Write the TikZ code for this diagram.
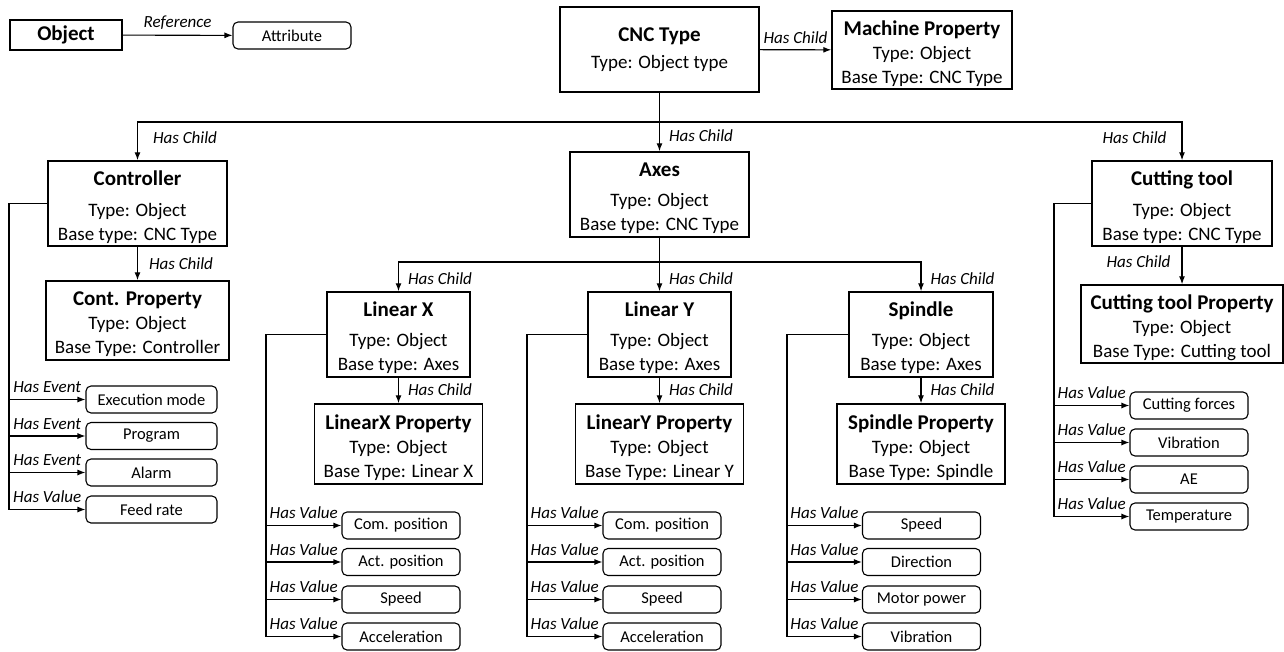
\documentclass[tikz,border=0pt]{standalone}
\usepackage{fontspec}
\setmainfont{Carlito}
\usetikzlibrary{arrows.meta,positioning}
\newcommand{\boxhead}[1]{{\fontsize{21}{24}\selectfont\bfseries #1}}
\newcommand{\boxtitle}[1]{\boxhead{\rule{0pt}{22pt}#1}}

\begin{document}
\begin{tikzpicture}[x=1pt,y=-1pt,>={Latex[length=8pt,width=6pt]},line width=1.1pt,
  box/.style={draw,line width=1.5pt,align=center,inner sep=0pt,font=\fontsize{19}{24}\selectfont},
  val/.style={draw,rounded corners=5pt,minimum width=118pt,minimum height=27pt,inner sep=0pt,font=\fontsize{16.5}{20}\selectfont},
  lbl/.style={font=\fontsize{17}{20}\selectfont\itshape,inner sep=1pt}]
\useasboundingbox (0,0) rectangle (1284,651);
\node[box,minimum width=112pt,minimum height=30pt] (obj) at (66,35) {\boxhead{Object}};
\node[val] (attr) at (292,35.5) {Attribute};
\draw[->] (obj) -- node[lbl,above=4pt]{Reference} (attr);

\node[box,minimum width=199pt,minimum height=85pt] (cnc) at (659.5,49.5) {\boxhead{CNC Type}\\[3pt] Type: Object type};
\node[box,minimum width=180pt,minimum height=78pt] (mach) at (922,50) {\boxtitle{Machine Property}\\ Type: Object\\ Base Type: CNC Type};
\draw[->] (cnc) -- node[lbl,above=5pt]{Has Child} (mach);

\node[box,minimum width=179pt,minimum height=85pt] (ctrl) at (137.5,203.5) {\boxtitle{Controller}\\[7pt] Type: Object\\ Base type: CNC Type};
\node[box,minimum width=183pt,minimum height=79pt] (cprop) at (137.5,320.5) {\boxtitle{Cont. Property}\\ Type: Object\\ Base Type: Controller};
\node[box,minimum width=179pt,minimum height=85pt] (axes) at (659.5,194.5) {\boxtitle{Axes}\\[6pt] Type: Object\\ Base type: CNC Type};
\node[box,minimum width=180pt,minimum height=85pt] (ctool) at (1182,203.5) {\boxtitle{Cutting tool}\\[7pt] Type: Object\\ Base type: CNC Type};
\node[box,minimum width=202pt,minimum height=78pt] (ctprop) at (1182,324) {\boxtitle{Cutting tool Property}\\ Type: Object\\ Base Type: Cutting tool};

\coordinate (bus) at (659.5,122);
\draw[->] (cnc) -- node[lbl,right=8pt,pos=0.73]{Has Child} (axes);
\draw[->] (bus) -| node[lbl,right=14pt,pos=0.7]{Has Child} (ctrl);
\draw[->] (bus) -| node[lbl,left=14pt,pos=0.7]{Has Child} (ctool);
\draw[->] (ctrl) -- node[lbl,right=10pt]{Has Child} (cprop);
\draw[->] (ctool) -- node[lbl,left=10pt,pos=0.4]{Has Child} (ctprop);

\node[box,minimum width=143pt,minimum height=85pt] (linx) at (398.5,334.5) {\boxtitle{Linear X}\\[6pt] Type: Object\\ Base type: Axes};
\node[box,minimum width=168pt,minimum height=80pt] (xprop) at (398.5,444) {\boxtitle{LinearX Property}\\ Type: Object\\ Base Type: Linear X};
\node[box,minimum width=143pt,minimum height=85pt] (liny) at (659.5,334.5) {\boxtitle{Linear Y}\\[6pt] Type: Object\\ Base type: Axes};
\node[box,minimum width=168pt,minimum height=80pt] (yprop) at (659.5,444) {\boxtitle{LinearY Property}\\ Type: Object\\ Base Type: Linear Y};
\node[box,minimum width=144pt,minimum height=85pt] (spin) at (921,334.5) {\boxtitle{Spindle}\\[6pt] Type: Object\\ Base type: Axes};
\node[box,minimum width=168pt,minimum height=80pt] (sprop) at (921,444) {\boxtitle{Spindle Property}\\ Type: Object\\ Base Type: Spindle};

\coordinate (bus2) at (659.5,262);
\draw[->] (axes) -- node[lbl,right=8pt,pos=0.76]{Has Child} (liny);
\draw[->] (bus2) -| node[lbl,right=8pt,pos=0.78]{Has Child} (linx);
\draw[->] (bus2) -| node[lbl,right=8pt,pos=0.78]{Has Child} (spin);
\draw[->] (linx) -- node[lbl,right=8pt,pos=0.45]{Has Child} (xprop);
\draw[->] (liny) -- node[lbl,right=8pt,pos=0.45]{Has Child} (yprop);
\draw[->] (spin) -- node[lbl,right=8pt,pos=0.45]{Has Child} (sprop);

\node[val,minimum width=131pt] (cv1) at (151.5,399.5) {Execution mode};
\node[val,minimum width=131pt] (cv2) at (151.5,436) {Program};
\node[val,minimum width=131pt] (cv3) at (151.5,472.5) {Alarm};
\node[val,minimum width=131pt] (cv4) at (151.5,509.5) {Feed rate};
\coordinate (ct) at (9,509.5);
\draw (ctrl.west) -| (ct);
\draw[->] (ct |- cv1) -- node[lbl,above=5pt]{Has Event} (cv1);
\draw[->] (ct |- cv2) -- node[lbl,above=5pt]{Has Event} (cv2);
\draw[->] (ct |- cv3) -- node[lbl,above=5pt]{Has Event} (cv3);
\draw[->] (ct) -- node[lbl,above=5pt]{Has Value} (cv4);

\node[val] (xv1) at (401,525.5) {Com. position};
\node[val] (xv2) at (401,562) {Act. position};
\node[val] (xv3) at (401,599.5) {Speed};
\node[val] (xv4) at (401,636.5) {Acceleration};
\coordinate (xt) at (266,636.5);
\draw (linx.west) -| (xt);
\foreach \i in {1,2,3}
  \draw[->] (xt |- xv\i) -- node[lbl,above=5pt]{Has Value} (xv\i);
\draw[->] (xt) -- node[lbl,above=5pt]{Has Value} (xv4);

\node[val] (yv1) at (662,525.5) {Com. position};
\node[val] (yv2) at (662,562) {Act. position};
\node[val] (yv3) at (662,599.5) {Speed};
\node[val] (yv4) at (662,636.5) {Acceleration};
\coordinate (yt) at (527,636.5);
\draw (liny.west) -| (yt);
\foreach \i in {1,2,3}
  \draw[->] (yt |- yv\i) -- node[lbl,above=5pt]{Has Value} (yv\i);
\draw[->] (yt) -- node[lbl,above=5pt]{Has Value} (yv4);

\node[val] (sv1) at (921.5,525.5) {Speed};
\node[val] (sv2) at (921.5,562) {Direction};
\node[val] (sv3) at (921.5,599.5) {Motor power};
\node[val] (sv4) at (921.5,636.5) {Vibration};
\coordinate (st) at (787,636.5);
\draw (spin.west) -| (st);
\foreach \i in {1,2,3}
  \draw[->] (st |- sv\i) -- node[lbl,above=5pt]{Has Value} (sv\i);
\draw[->] (st) -- node[lbl,above=5pt]{Has Value} (sv4);

\node[val] (tv1) at (1189,405.5) {Cutting forces};
\node[val] (tv2) at (1189,442.5) {Vibration};
\node[val] (tv3) at (1189,479.5) {AE};
\node[val] (tv4) at (1189,516.5) {Temperature};
\coordinate (tt) at (1054,516.5);
\draw (ctool.west) -| (tt);
\foreach \i in {1,2,3}
  \draw[->] (tt |- tv\i) -- node[lbl,above=5pt]{Has Value} (tv\i);
\draw[->] (tt) -- node[lbl,above=5pt]{Has Value} (tv4);
\end{tikzpicture}
\end{document}
